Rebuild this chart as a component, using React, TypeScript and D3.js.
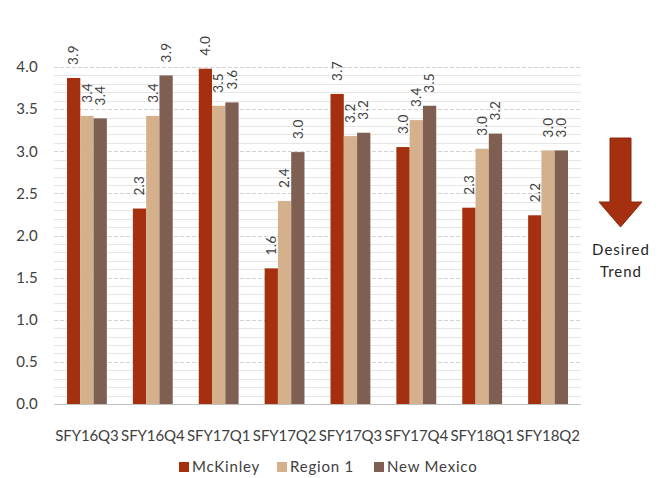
import React from "react";
import * as d3 from "d3";

const categories = ["SFY16Q3", "SFY16Q4", "SFY17Q1", "SFY17Q2", "SFY17Q3", "SFY17Q4", "SFY18Q1", "SFY18Q2"];
const seriesNames = ["McKinley", "Region 1", "New Mexico"];
const mckinley = [3.87, 2.32, 3.98, 1.61, 3.68, 3.05, 2.33, 2.24];
const region1 = [3.42, 3.42, 3.54, 2.41, 3.18, 3.37, 3.03, 3.01];
const newMexico = [3.39, 3.9, 3.58, 2.99, 3.22, 3.54, 3.21, 3.01];
const yTicks = [0, 0.5, 1, 1.5, 2, 2.5, 3, 3.5, 4];
const colors = ["#A5300F", "#D5B08C", "#7F5F52"];

const W = 667;
const H = 478;
const FONT = "Lato, 'Open Sans', sans-serif";

export default function App() {
  const series = [mckinley, region1, newMexico];
  const x = d3.scaleBand<string>().domain(categories).range([54, 581]).paddingInner(0).paddingOuter(0);
  const xs = d3.scaleBand<string>().domain(seriesNames).range([0, x.bandwidth()]).paddingInner(0).paddingOuter(0.98);
  const y = d3.scaleLinear().domain([0, 4]).range([404, 67]);
  const minor = d3.range(1, 41).map((v) => v / 10);

  return (
    <svg width={W} height={H} style={{ position: "absolute", left: 0, top: 0, background: "#fff" }}>
      {minor.map((v) => {
        const isMajor = Math.round(v * 10) % 5 === 0;
        return (
          <line
            key={v}
            x1={54}
            x2={581}
            y1={Math.round(y(v)) + 0.5}
            y2={Math.round(y(v)) + 0.5}
            stroke={isMajor ? "#D3D3D3" : "#E6E6E6"}
            strokeWidth={1}
            strokeDasharray={isMajor ? "4,2" : undefined}
          />
        );
      })}
      <line x1={54} x2={581} y1={404.5} y2={404.5} stroke="#BFBFBF" strokeWidth={1} />
      {yTicks.map((t) => (
        <text key={t} x={38} y={y(t)} dy="0.35em" textAnchor="end" fontFamily={FONT} fontSize={15} letterSpacing={0.3} fill="#404040">
          {t.toFixed(1)}
        </text>
      ))}
      {categories.map((c, i) => (
        <g key={c}>
          {series.map((s, j) => {
            const bx = (x(c) as number) + (xs(seriesNames[j]) as number);
            const bw = xs.bandwidth();
            const top = y(s[i]);
            const cx = bx + bw / 2;
            const ly = top - 13;
            return (
              <g key={j}>
                <rect x={bx} y={top} width={bw} height={404 - top} fill={colors[j]} />
                <text
                  x={cx}
                  y={ly}
                  transform={`rotate(-90 ${cx} ${ly})`}
                  dy="0.35em"
                  textAnchor="start"
                  fontFamily={FONT}
                  fontSize={13.5}
                  letterSpacing={0.3}
                  fill="#404040"
                >
                  {s[i].toFixed(1)}
                </text>
              </g>
            );
          })}
          <text
            x={(x(c) as number) + x.bandwidth() / 2}
            y={436}
            dy="0.35em"
            textAnchor="middle"
            fontFamily={FONT}
            fontSize={15}
            letterSpacing={-0.1}
            fill="#404040"
          >
            {c}
          </text>
        </g>
      ))}
      {seriesNames.map((n, j) => {
        const lx = [179, 277, 374][j];
        return (
          <g key={n}>
            <rect x={lx} y={462} width={10} height={10} fill={colors[j]} />
            <text x={lx + 13} y={467} dy="0.35em" fontFamily={FONT} fontSize={15} letterSpacing={0.8} fill="#404040">
              {n}
            </text>
          </g>
        );
      })}
      <path
        d="M610,138 L631,138 L631,202 L642,202 L620.5,227 L599,202 L610,202 Z"
        fill="#A5300F"
        stroke="#8A2A10"
        strokeWidth={1}
      />
      <text x={621} y={250} dy="0.35em" textAnchor="middle" fontFamily={FONT} fontSize={15} letterSpacing={1} fill="#262626">
        Desired
      </text>
      <text x={621} y={272} dy="0.35em" textAnchor="middle" fontFamily={FONT} fontSize={15} letterSpacing={1} fill="#262626">
        Trend
      </text>
    </svg>
  );
}
